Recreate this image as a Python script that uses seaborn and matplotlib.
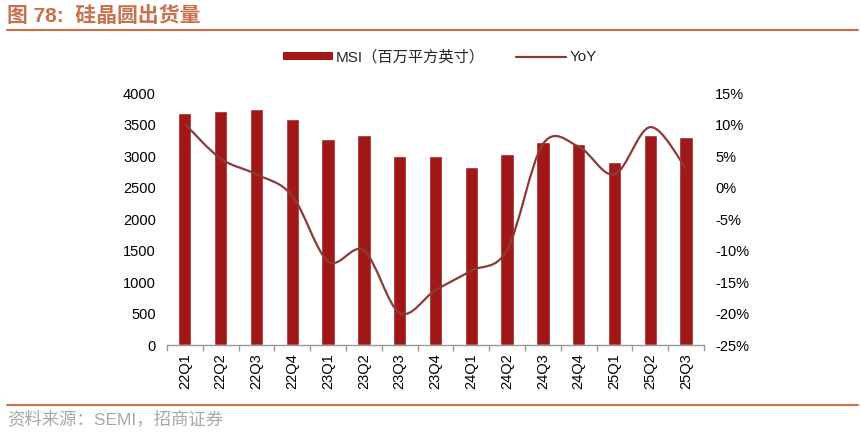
import numpy as np
import pandas as pd
import matplotlib
matplotlib.use('Agg')
import matplotlib.pyplot as plt
import seaborn as sns
from matplotlib.path import Path
from matplotlib.patches import PathPatch, Patch
from matplotlib.lines import Line2D
from matplotlib.ticker import FixedLocator, FuncFormatter

# data
quarters = ['22Q1', '22Q2', '22Q3', '22Q4', '23Q1', '23Q2', '23Q3', '23Q4',
            '24Q1', '24Q2', '24Q3', '24Q4', '25Q1', '25Q2', '25Q3']
msi = [3680, 3710, 3750, 3590, 3265, 3340, 3005, 2995,
       2830, 3035, 3220, 3185, 2900, 3335, 3310]
yoy = [10.1, 4.6, 2.1, -1.3, -11.7, -10.0, -19.9, -16.3,
       -13.2, -9.9, 6.9, 6.5, 2.1, 9.6, 3.0]

title = '图 78:  硅晶圆出货量'
source = '资料来源：SEMI，招商证券'
bar_label = 'MSI（百万平方英寸）'
line_label = 'YoY'

bar_color = '#A11818'
line_color = '#8B3B36'
accent = '#C8714D'

sns.set_theme(style='white')
plt.rcParams['font.family'] = ['Liberation Sans', 'Noto Sans CJK SC', 'DejaVu Sans']

df = pd.DataFrame({'quarter': quarters, 'msi': msi, 'yoy': yoy})

fig = plt.figure(figsize=(8.62, 4.33), dpi=100)
ax = fig.add_axes([0.1937, 0.2032, 0.623, 0.5818])

sns.barplot(data=df, x='quarter', y='msi', color=bar_color, saturation=1,
            width=0.37, ax=ax)
ax.set_xlim(-0.5, len(quarters) - 0.5)
ax.set_ylim(0, 4000)
ax.set_yticks(np.arange(0, 4001, 500))
ax.set_xlabel('')
ax.set_ylabel('')
for s in ['top', 'left', 'right']:
    ax.spines[s].set_visible(False)
ax.spines['bottom'].set_color('#999999')
ax.spines['bottom'].set_linewidth(1.0)
ax.tick_params(axis='y', length=0, labelsize=10.5, colors='black', pad=8)
ax.tick_params(axis='x', which='major', length=0, labelsize=10.5, colors='black',
               labelrotation=90, pad=6)
ax.xaxis.set_minor_locator(FixedLocator(np.arange(-0.5, len(quarters), 1.0)))
ax.tick_params(axis='x', which='minor', length=4, color='#999999', width=1.0,
               direction='out', bottom=True)

# YoY on the right axis, smoothed like the source chart
ax2 = ax.twinx()
ax2.set_ylim(-25, 15)
ax2.set_yticks(np.arange(-25, 16, 5))
ax2.yaxis.set_major_formatter(FuncFormatter(lambda v, p: f'{v:.0f}%'))
ax2.tick_params(axis='y', length=0, labelsize=10.5, colors='black', pad=8)
for s in ax2.spines.values():
    s.set_visible(False)
ax2.grid(False)

xs = np.arange(len(yoy), dtype=float)
ys = np.array(yoy, dtype=float)
verts = [(xs[0], ys[0])]
codes = [Path.MOVETO]
n = len(xs)
for i in range(n - 1):
    p0 = (xs[max(i - 1, 0)], ys[max(i - 1, 0)])
    p1 = (xs[i], ys[i])
    p2 = (xs[i + 1], ys[i + 1])
    p3 = (xs[min(i + 2, n - 1)], ys[min(i + 2, n - 1)])
    c1 = (p1[0] + (p2[0] - p0[0]) / 6, p1[1] + (p2[1] - p0[1]) / 6)
    c2 = (p2[0] - (p3[0] - p1[0]) / 6, p2[1] - (p3[1] - p1[1]) / 6)
    verts += [c1, c2, p2]
    codes += [Path.CURVE4] * 3
ax2.add_patch(PathPatch(Path(verts, codes), facecolor='none',
                        edgecolor=line_color, linewidth=1.6))

handles = [Patch(facecolor=bar_color, edgecolor='none'),
           Line2D([0], [0], color=line_color, linewidth=1.6)]
fig.legend(handles, [bar_label, line_label], loc='center',
           bbox_to_anchor=(0.510, 0.868), ncol=2, frameon=False,
           fontsize=11, handlelength=3.3, handleheight=0.5,
           columnspacing=2.0, handletextpad=0.2)

# header and footer
fig.text(0.008, 0.962, title, fontsize=15, fontweight='bold', color=accent,
         va='center', ha='left')
fig.add_artist(Line2D([0.008, 0.995], [0.931, 0.931], color=accent, linewidth=1.5,
                      transform=fig.transFigure))
fig.add_artist(Line2D([0.008, 0.995], [0.065, 0.065], color=accent, linewidth=1.5,
                      transform=fig.transFigure))
fig.text(0.008, 0.034, source, fontsize=12.5, color='#A8A8A8',
         va='center', ha='left')

fig.savefig('out.png', dpi=100)
